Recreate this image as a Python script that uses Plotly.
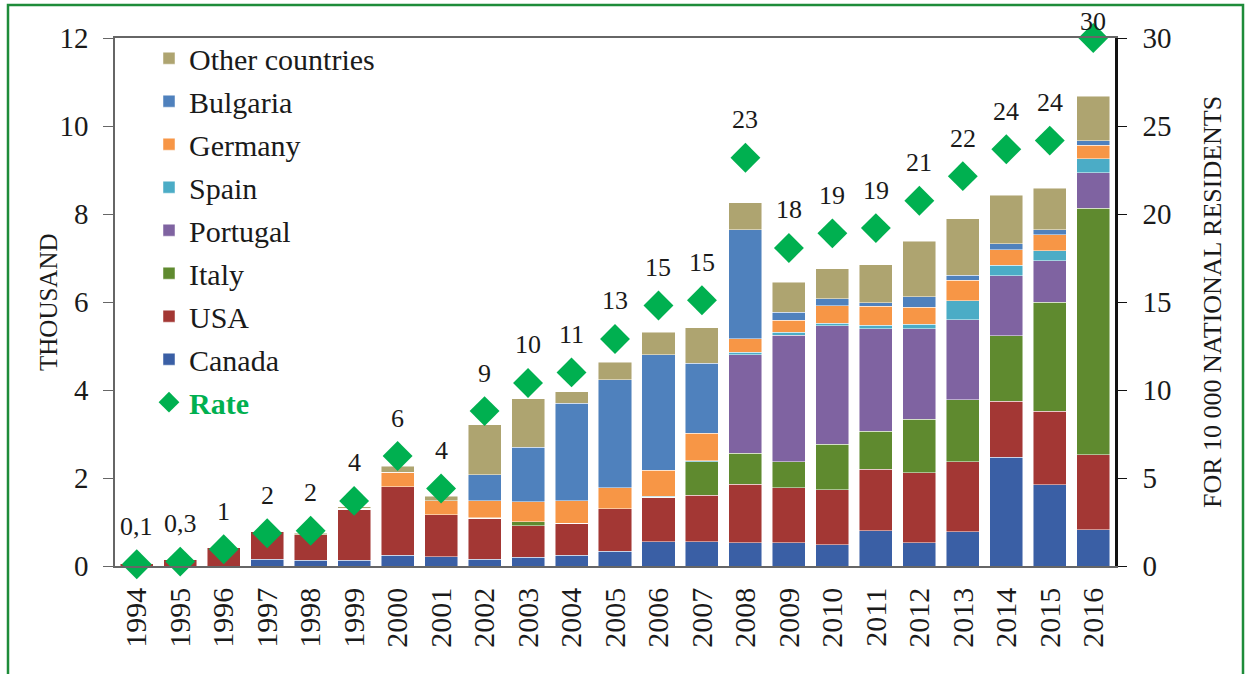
import plotly.graph_objects as go

years = [str(y) for y in range(1994, 2017)]

canada   = [0, 0, 0, 0.15, 0.13, 0.13, 0.24, 0.21, 0.15, 0.20, 0.24, 0.34, 0.55, 0.55, 0.53, 0.53, 0.48, 0.80, 0.53, 0.78, 2.47, 1.85, 0.82]
usa      = [0.05, 0.15, 0.42, 0.64, 0.58, 1.16, 1.56, 0.95, 0.93, 0.72, 0.73, 0.96, 1.01, 1.06, 1.33, 1.25, 1.25, 1.40, 1.59, 1.59, 1.27, 1.67, 1.71]
italy    = [0, 0, 0, 0, 0, 0, 0, 0, 0, 0.09, 0, 0, 0, 0.76, 0.70, 0.59, 1.04, 0.86, 1.21, 1.41, 1.49, 2.48, 5.60]
portugal = [0, 0, 0, 0, 0, 0, 0, 0, 0, 0, 0, 0, 0, 0, 2.24, 2.88, 2.69, 2.33, 2.06, 1.82, 1.37, 0.94, 0.81]
spain    = [0, 0, 0, 0, 0, 0, 0, 0, 0.02, 0, 0, 0, 0.03, 0.02, 0.06, 0.06, 0.06, 0.08, 0.11, 0.43, 0.24, 0.22, 0.32]
germany  = [0, 0, 0, 0, 0, 0.02, 0.33, 0.32, 0.38, 0.45, 0.51, 0.48, 0.59, 0.63, 0.31, 0.27, 0.39, 0.43, 0.38, 0.46, 0.35, 0.37, 0.30]
bulgaria = [0, 0, 0, 0, 0, 0, 0, 0, 0.59, 1.24, 2.22, 2.45, 2.62, 1.59, 2.47, 0.19, 0.16, 0.08, 0.24, 0.12, 0.13, 0.11, 0.11]
other    = [0, 0, 0, 0.01, 0.03, 0.04, 0.14, 0.11, 1.14, 1.10, 0.26, 0.40, 0.51, 0.81, 0.62, 0.68, 0.69, 0.87, 1.26, 1.28, 1.11, 0.94, 1.01]

rate = [0.1, 0.25, 0.95, 1.86, 2.0, 3.7, 6.25, 4.4, 8.8, 10.4, 11.0, 12.9, 14.8, 15.1, 23.2, 18.07, 18.9, 19.2, 20.75, 22.15, 23.68, 24.17, 30.0]
rate_labels = ["0,1", "0,3", "1", "2", "2", "4", "6", "4", "9", "10", "11", "13", "15", "15", "23", "18", "19", "19", "21", "22", "24", "24", "30"]

series = [
    ("Canada", canada, "#3A5FA5"),
    ("USA", usa, "#A33734"),
    ("Italy", italy, "#5F8A2F"),
    ("Portugal", portugal, "#7F63A1"),
    ("Spain", spain, "#4BACC6"),
    ("Germany", germany, "#F79646"),
    ("Bulgaria", bulgaria, "#4F81BD"),
    ("Other countries", other, "#AEA470"),
]

FONT = "Liberation Serif, Times New Roman, serif"
GREEN = "#00B050"
INK = "#1a1a1a"

fig = go.Figure()
n = len(series)
for i, (name, vals, col) in enumerate(series):
    fig.add_trace(go.Bar(
        x=years, y=vals, name=name,
        marker=dict(color=col, line=dict(width=0.6, color="rgba(255,255,255,0.8)")),
        legendgroup=name, legendrank=n - i, yaxis="y",
    ))

fig.add_trace(go.Scatter(
    x=years, y=rate, name="<span style='color:#00B050'><b>Rate</b></span>",
    mode="markers", yaxis="y2",
    marker=dict(symbol="diamond", size=23, color=GREEN),
    legendgroup="Rate", legendrank=n + 1, cliponaxis=False,
))

annotations = []
for idx, (r, lab) in enumerate(zip(rate, rate_labels)):
    annotations.append(dict(
        x=idx, y=r, xref="x", yref="y2", text=lab, showarrow=False,
        yshift=38 if r < 28 else 17, font=dict(family=FONT, size=26, color=INK),
    ))

annotations.append(dict(
    x=-0.067, y=0.5, xref="paper", yref="paper", xanchor="center", yanchor="middle",
    text="THOUSAND", textangle=-90,
    showarrow=False, font=dict(family=FONT, size=25, color=INK),
))
annotations.append(dict(
    x=1.097, y=0.5, xref="paper", yref="paper", xanchor="center", yanchor="middle",
    text="FOR 10 000 NATIONAL RESIDENTS", textangle=-90,
    showarrow=False, font=dict(family=FONT, size=26, color=INK),
))

fig.update_layout(
    width=1250, height=674,
    margin=dict(l=115, r=135, t=38, b=108),
    paper_bgcolor="white", plot_bgcolor="white",
    barmode="stack", bargap=0.24,
    font=dict(family=FONT, size=29, color=INK),
    showlegend=True,
    legend=dict(
        x=0.034, y=1.011, xanchor="left", yanchor="top",
        bgcolor="rgba(0,0,0,0)", font=dict(family=FONT, size=30, color=INK),
        traceorder="grouped", tracegroupgap=1, itemwidth=30, maxheight=640,
    ),
    xaxis=dict(
        type="category", range=[-0.5, len(years) - 0.5], tickangle=-90,
        tickfont=dict(family=FONT, size=30), ticklabelstandoff=8,
        showline=True, linecolor="#666666", linewidth=1.5, mirror=True,
        ticks="", showgrid=False,
    ),
    yaxis=dict(
        range=[0, 12], dtick=2, tickfont=dict(family=FONT, size=29),
        showline=True, linecolor="#666666", linewidth=1.5,
        ticks="outside", ticklen=10, tickcolor="#666666", ticklabelstandoff=9,
        showgrid=False, zeroline=False,
    ),
    yaxis2=dict(
        range=[0, 30], dtick=5, overlaying="y", side="right",
        tickfont=dict(family=FONT, size=29),
        showline=True, linecolor="#111111", linewidth=2.5,
        ticks="outside", ticklen=9, tickcolor="#111111", ticklabelstandoff=10,
        showgrid=False, zeroline=False,
    ),
    annotations=annotations,
    shapes=[dict(
        type="rect", xref="paper", yref="paper",
        x0=-0.107, x1=1.128, y0=-0.25, y1=1.0625,
        line=dict(color="#1E8C3A", width=2.5), fillcolor="rgba(0,0,0,0)", layer="below",
    )],
)

fig.write_html(
    "out.html",
    config={"displayModeBar": False},
    post_script="document.body.style.margin='0px';",
)
